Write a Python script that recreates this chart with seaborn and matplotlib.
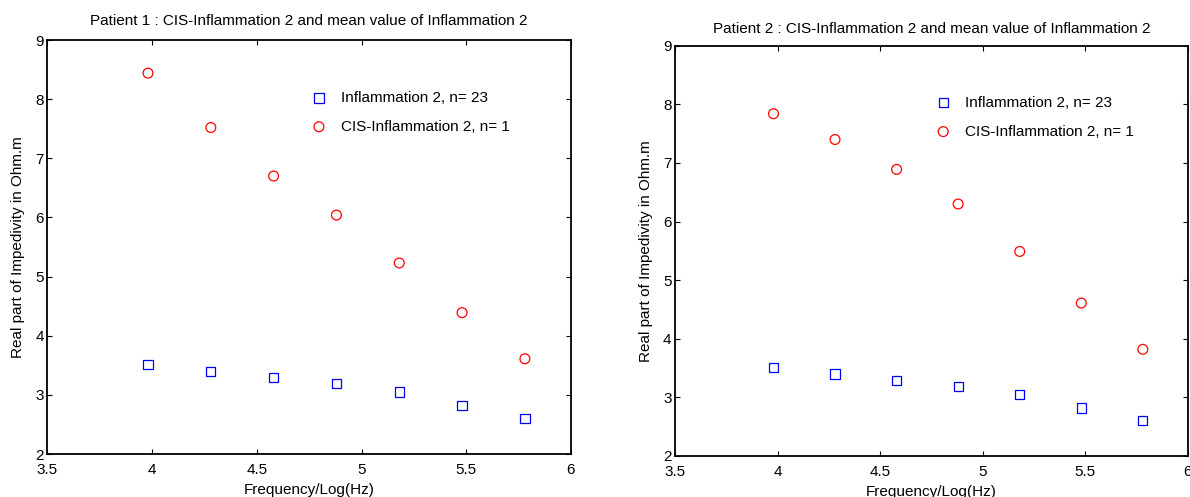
import numpy as np
import pandas as pd
import matplotlib
matplotlib.use("Agg")
import matplotlib.pyplot as plt
import seaborn as sns

# Log10 of the measurement frequencies
log_freq = [3.98, 4.28, 4.58, 4.88, 5.18, 5.48, 5.78]

# Mean real part of impedivity for the inflammation group (n = 23)
inflammation_mean = [3.51, 3.40, 3.29, 3.19, 3.05, 2.82, 2.60]

# Single CIS-inflammation patient curves
patient1_cis = [8.44, 7.52, 6.70, 6.04, 5.23, 4.39, 3.61]
patient2_cis = [7.84, 7.40, 6.89, 6.30, 5.49, 4.61, 3.82]

titles = [
    "Patient 1 : CIS-Inflammation 2 and mean value of Inflammation 2",
    "Patient 2 : CIS-Inflammation 2 and mean value of Inflammation 2",
]
label_mean = "Inflammation 2, n= 23"
label_cis = "CIS-Inflammation 2, n= 1"
xlabel = "Frequency/Log(Hz)"
ylabel = "Real part of Impedivity in Ohm.m"
xticks = [3.5, 4, 4.5, 5, 5.5, 6]
xticklabels = ["3.5", "4", "4.5", "5", "5.5", "6"]
yticks = [2, 3, 4, 5, 6, 7, 8, 9]

FS = 11

sns.set_style("ticks")
plt.rcParams["font.family"] = ["Liberation Sans", "DejaVu Sans"]
plt.rcParams["font.size"] = FS
plt.rcParams["text.color"] = "black"
plt.rcParams["axes.labelcolor"] = "black"
plt.rcParams["xtick.color"] = "black"
plt.rcParams["ytick.color"] = "black"

fig = plt.figure(figsize=(11.9, 4.97), dpi=100)
axes = [
    fig.add_axes([0.0399, 0.0865, 0.4399, 0.8330]),
    fig.add_axes([0.5672, 0.0825, 0.4311, 0.8255]),
]

layout = [
    # (legend anchor, title y, ylabel x, xlabel y)
    ((0.504, 0.877), 1.046, -0.043, -0.070),
    ((0.508, 0.878), 1.041, -0.043, -0.071),
]

for ax, cis, title, (leg_xy, title_y, ylab_x, xlab_y) in zip(
    axes, [patient1_cis, patient2_cis], titles, layout
):
    df = pd.DataFrame({"freq": log_freq, "mean": inflammation_mean, "cis": cis})
    sns.scatterplot(data=df, x="freq", y="mean", ax=ax, marker="s", s=44,
                    color="#0000ff", facecolor="none", edgecolor="#0000ff",
                    linewidth=0.9, label=label_mean)
    sns.scatterplot(data=df, x="freq", y="cis", ax=ax, marker="o", s=50,
                    color="#ff0000", facecolor="none", edgecolor="#ff0000",
                    linewidth=0.9, label=label_cis)

    ax.set_xlim(3.5, 6)
    ax.set_ylim(2, 9)
    ax.set_xticks(xticks)
    ax.set_xticklabels(xticklabels)
    ax.set_yticks(yticks)
    ax.tick_params(axis="both", direction="in", length=3.5, width=0.8,
                   top=True, right=True, labelsize=FS, colors="black")
    ax.tick_params(axis="x", pad=6.5)
    ax.tick_params(axis="y", pad=2.5)
    for sp in ax.spines.values():
        sp.set_visible(True)
        sp.set_linewidth(1.3)
        sp.set_color("black")

    ax.set_xlabel(xlabel, fontsize=FS)
    ax.xaxis.label.set_va("top")
    ax.xaxis.set_label_coords(0.5, xlab_y)
    ax.set_ylabel(ylabel, fontsize=FS)
    ax.yaxis.set_label_coords(ylab_x, 0.5)

    ax.text(0.5, title_y, title, transform=ax.transAxes,
            ha="center", va="center", fontsize=FS)

    ax.legend(loc="upper left", bbox_to_anchor=leg_xy, frameon=False,
              borderaxespad=0, borderpad=0, handlelength=1.0,
              handletextpad=0.94, labelspacing=0.97, fontsize=FS,
              scatterpoints=1)

fig.savefig("out.png", dpi=100)
